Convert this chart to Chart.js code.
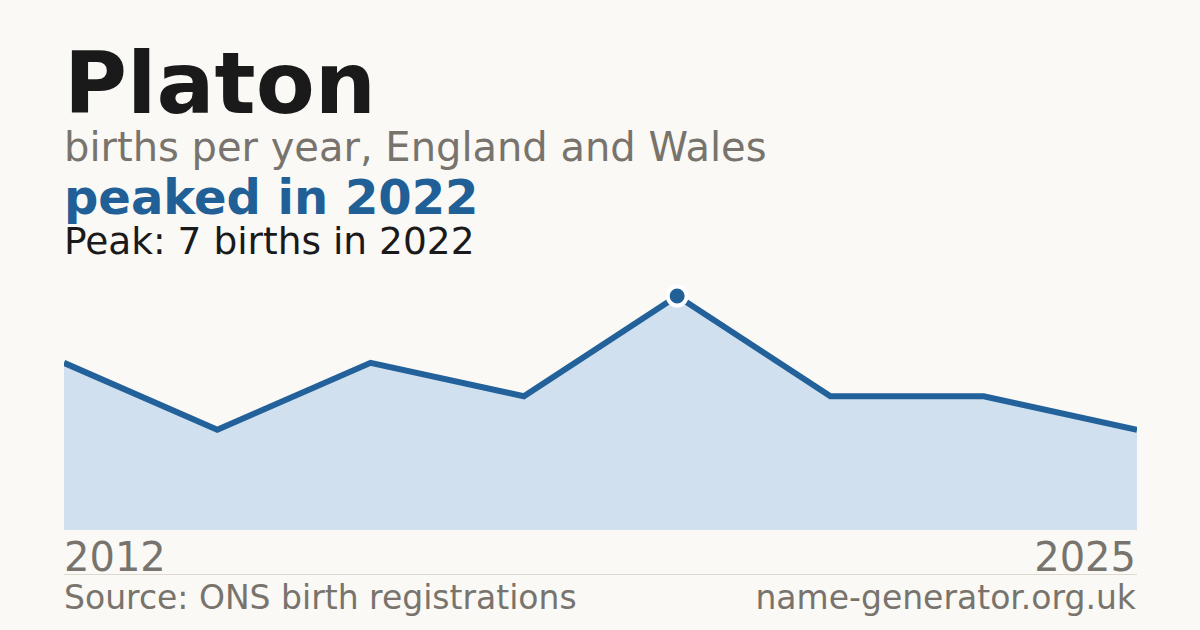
<!DOCTYPE html>
<html>
<head>
<meta charset="utf-8">
<script src="https://cdn.jsdelivr.net/npm/chart.js@4/dist/chart.umd.min.js"></script>
<style>
  html, body { margin:0; padding:0; }
  body { width:1200px; height:630px; background:#faf9f5; position:relative; overflow:hidden; font-family:"DejaVu Sans", sans-serif; }
  .t { position:absolute; left:64px; line-height:1; white-space:nowrap; }
  #title { top:40px; font-size:86px; font-weight:bold; color:#1a1a1a; }
  #sub { top:127px; font-size:40px; color:#78746d; }
  #headline { top:173px; font-size:48px; font-weight:bold; color:#216096; }
  #peak { top:223px; font-size:37.5px; color:#1a1a1a; }
  #y0 { top:537px; font-size:40px; color:#78746d; }
  #y1 { top:537px; font-size:40px; color:#78746d; left:auto; right:64px; }
  #rule { position:absolute; left:64px; width:1073px; top:574px; height:1px; background:#ddd9d1; }
  #src { top:581px; font-size:33px; color:#78746d; }
  #site { top:581px; font-size:33px; color:#78746d; left:auto; right:64px; }
  #wrap { position:absolute; left:64px; top:280px; width:1073px; height:250px; }
</style>
</head>
<body>
<div class="t" id="title">Platon</div>
<div class="t" id="sub">births per year, England and Wales</div>
<div class="t" id="headline">peaked in 2022</div>
<div class="t" id="peak">Peak: 7 births in 2022</div>
<div id="wrap"><canvas id="c"></canvas></div>
<div class="t" id="y0"></div>
<div class="t" id="y1"></div>
<div id="rule"></div>
<div class="t" id="src">Source: ONS birth registrations</div>
<div class="t" id="site">name-generator.org.uk</div>
<script>
const years = ["2012", "2014", "2016", "2018", "2022", "2023", "2024", "2025"];
const births = [5, 3, 5, 4, 7, 4, 4, 3];
const peakYear = "2022";

document.getElementById('y0').textContent = years[0];
document.getElementById('y1').textContent = years[years.length - 1];

const peakIdx = years.indexOf(peakYear);
const maxVal = Math.max(...births);

new Chart(document.getElementById('c'), {
  type: 'line',
  data: {
    labels: years,
    datasets: [{
      data: births,
      borderColor: '#22619a',
      borderWidth: 6,
      backgroundColor: '#d0e0ef',
      fill: 'origin',
      tension: 0,
      pointRadius: births.map((v, i) => i === peakIdx ? 9.5 : 0),
      pointBackgroundColor: '#216096',
      pointBorderColor: '#ffffff',
      pointBorderWidth: 4,
      clip: false
    }]
  },
  options: {
    responsive: true,
    maintainAspectRatio: false,
    animation: false,
    layout: { padding: { top: 16, left: 0, right: 0, bottom: 0 } },
    plugins: { legend: { display: false }, tooltip: { enabled: false } },
    scales: {
      x: { display: false, offset: false },
      y: { display: false, min: 0, max: maxVal }
    }
  }
});
</script>
</body>
</html>
